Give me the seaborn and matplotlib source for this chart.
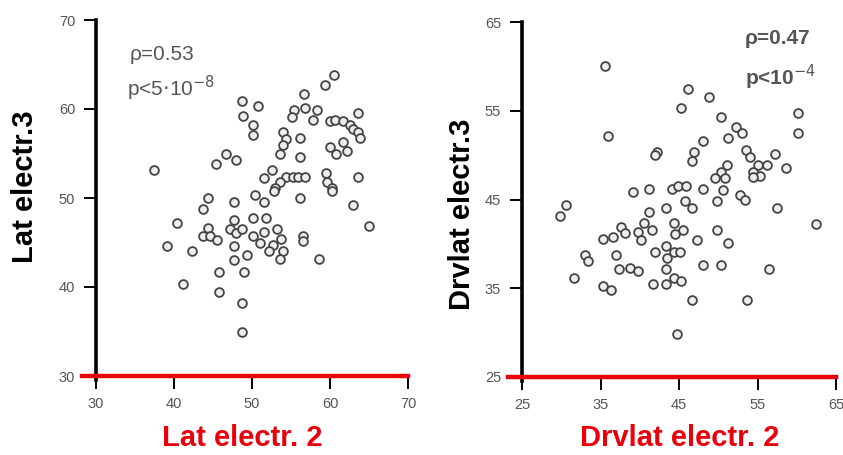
import matplotlib
matplotlib.use("Agg")
import matplotlib.pyplot as plt
import seaborn as sns
import pandas as pd

# Latency, electrode 2 vs electrode 3
lat_e2 = [60.5, 59.4, 56.7, 48.7, 50.8, 55.4, 56.8, 58.3, 55.1, 57.8, 48.8, 63.6,
          60.0, 60.6, 61.7, 62.6, 63.0, 63.6, 63.9, 50.1, 50.1, 54.0, 54.4, 56.2,
          54.0, 53.6, 56.2, 61.7, 60.0, 60.8, 62.2, 46.7, 45.4, 47.9, 37.4, 52.6,
          51.5, 54.4, 55.3, 55.9, 56.8, 53.6, 52.9, 59.5, 59.6, 60.3, 63.6,
          44.3, 43.7, 47.7, 50.4, 51.5, 52.8, 56.2, 60.3, 62.9, 65.0, 40.4, 39.1,
          42.3, 44.3, 43.7, 44.6, 45.5, 47.7, 47.2, 47.9, 48.7, 50.1, 51.8, 50.1,
          51.5, 53.2, 51.0, 52.7, 53.7, 47.7, 52.2, 54.0, 53.6, 49.3, 56.5, 56.5,
          58.6, 47.7, 45.8, 49.0, 41.1, 45.8, 48.7, 48.7]
lat_e3 = [63.8, 62.7, 61.7, 60.9, 60.3, 59.9, 60.1, 59.9, 59.1, 58.8, 59.2, 59.6,
          58.6, 58.8, 58.6, 58.2, 57.8, 57.4, 56.7, 58.2, 57.1, 57.4, 56.6, 56.7,
          56.0, 55.0, 54.6, 56.3, 55.7, 54.9, 55.3, 55.0, 53.8, 54.3, 53.1, 53.2,
          52.2, 52.4, 52.4, 52.4, 52.4, 51.8, 51.1, 52.8, 51.8, 51.1, 52.4,
          50.0, 48.8, 49.6, 50.3, 49.6, 50.8, 50.0, 50.8, 49.2, 46.8, 47.2, 44.6,
          44.0, 46.6, 45.7, 45.7, 45.3, 47.5, 46.5, 46.1, 46.5, 47.8, 47.8, 45.7,
          46.2, 46.5, 45.0, 44.7, 45.4, 44.6, 44.0, 44.0, 43.2, 43.6, 45.7, 45.2,
          43.2, 43.0, 41.7, 41.7, 40.3, 39.4, 38.2, 35.0]

# Derived latency, electrode 2 vs electrode 3
drv_e2 = [35.6, 46.2, 48.8, 45.2, 60.1, 60.1, 36.0, 50.4, 52.3, 53.0, 51.2, 48.0,
          42.2, 41.9, 46.9, 46.6, 53.5, 54.0, 57.2, 55.1, 56.2, 54.4, 55.3, 54.4,
          58.6, 51.1, 50.4, 49.6, 50.9, 50.6, 39.2, 41.2, 44.1, 44.9, 45.9, 48.0,
          52.8, 30.6, 29.8, 41.2, 43.3, 45.8, 46.6, 49.8, 53.4, 57.5, 62.5, 35.3,
          36.6, 37.6, 38.1, 39.8, 40.5, 40.2, 41.6, 44.4, 45.5, 44.5, 49.8, 47.3,
          51.2, 43.3, 44.3, 45.1, 41.9, 43.5, 43.3, 37.0, 33.0, 33.4, 37.4, 38.7,
          39.8, 48.0, 50.4, 56.5, 31.6, 35.3, 36.3, 41.7, 43.3, 44.4, 45.2, 46.6,
          53.7, 44.7]
drv_e3 = [60.0, 57.5, 56.5, 55.3, 54.7, 52.5, 52.2, 54.3, 53.2, 52.5, 51.9, 51.6,
          50.4, 50.0, 50.3, 49.3, 50.6, 49.8, 50.1, 48.9, 48.9, 48.1, 47.6, 47.5,
          48.6, 48.9, 48.1, 47.4, 47.4, 46.1, 45.9, 46.2, 46.2, 46.5, 46.5, 46.2,
          45.5, 44.4, 43.1, 43.6, 44.0, 44.8, 44.0, 44.8, 45.0, 44.0, 42.2, 40.5,
          40.8, 41.9, 41.2, 41.3, 42.3, 40.4, 41.6, 42.3, 41.6, 41.1, 41.6, 40.4,
          40.1, 39.8, 39.1, 39.1, 39.1, 38.4, 37.2, 38.7, 38.7, 38.1, 37.2, 37.3,
          36.9, 37.6, 37.6, 37.2, 36.2, 35.2, 34.8, 35.5, 35.5, 36.2, 35.8, 33.7,
          33.7, 29.8]

left_ticks = [30, 40, 50, 60, 70]
right_ticks = [25, 35, 45, 55, 65]

sns.set_style("white")
plt.rcParams["font.family"] = ["Liberation Sans", "DejaVu Sans"]

W, H = 843, 455
fig = plt.figure(figsize=(W / 100, H / 100), dpi=100)


def px_rect(x0, y0, x1, y1):
    return [x0 / W, 1 - y1 / H, (x1 - x0) / W, (y1 - y0) / H]


ax1 = fig.add_axes(px_rect(96, 20, 408, 376))
ax2 = fig.add_axes(px_rect(522, 22, 836, 377))

panels = [
    (ax1, lat_e2, lat_e3, left_ticks),
    (ax2, drv_e2, drv_e3, right_ticks),
]

for ax, xs, ys, ticks in panels:
    df = pd.DataFrame({"x": xs, "y": ys})
    sns.scatterplot(data=df, x="x", y="y", ax=ax, s=40, marker="o",
                    facecolor="#eeeeee", edgecolor="#444444", linewidth=1.3,
                    zorder=3, clip_on=False)
    lo, hi = ticks[0], ticks[-1]
    ax.set_xlim(lo, hi)
    ax.set_ylim(lo, hi)
    ax.set_xticks(ticks)
    ax.set_yticks(ticks)
    ax.set_xlabel("")
    ax.set_ylabel("")
    ax.spines["top"].set_visible(False)
    ax.spines["right"].set_visible(False)
    ax.spines["left"].set_color("black")
    ax.spines["left"].set_linewidth(2.6)
    ax.spines["left"].set_bounds(lo - 0.4, hi)
    ax.spines["bottom"].set_color("#e8000b")
    ax.spines["bottom"].set_linewidth(3.2)
    ax.spines["bottom"].set_bounds(lo - 1.8, hi)
    ax.spines["bottom"].set_zorder(4)
    ax.tick_params(axis="both", which="major", direction="out", length=9,
                   width=1.4, color="black", labelsize=10.5,
                   labelcolor="#555555", pad=6,
                   left=True, bottom=True, top=False, right=False)
    ax.set_facecolor("white")

ax1.text(130 / W, 1 - 55 / H, "ρ=0.53", transform=fig.transFigure,
         fontsize=15, color="#555555", va="center", ha="left")
ax1.text(127 / W, 1 - 88 / H, r"p<5$\cdot$10$^{-8}$", transform=fig.transFigure,
         fontsize=15, color="#555555", va="center", ha="left")
ax2.text(745 / W, 1 - 38 / H, "ρ=0.47", transform=fig.transFigure,
         fontsize=15, color="#555555", va="center", ha="left", fontweight="bold")
ax2.text(745 / W, 1 - 77 / H, r"p<10$^{-4}$", transform=fig.transFigure,
         fontsize=15, color="#555555", va="center", ha="left", fontweight="bold")

fig.text(25 / W, 1 - 187 / H, "Lat electr.3", rotation=90, fontsize=21,
         fontweight="bold", color="black", ha="center", va="center")
fig.text(462 / W, 1 - 214 / H, "Drvlat electr.3", rotation=90, fontsize=21,
         fontweight="bold", color="black", ha="center", va="center")
fig.text(242 / W, 1 - 438 / H, "Lat electr. 2", fontsize=21,
         fontweight="bold", color="#e8000b", ha="center", va="center")
fig.text(680 / W, 1 - 438 / H, "Drvlat electr. 2", fontsize=21,
         fontweight="bold", color="#e8000b", ha="center", va="center")

fig.savefig("out.png", dpi=100, facecolor="white")
